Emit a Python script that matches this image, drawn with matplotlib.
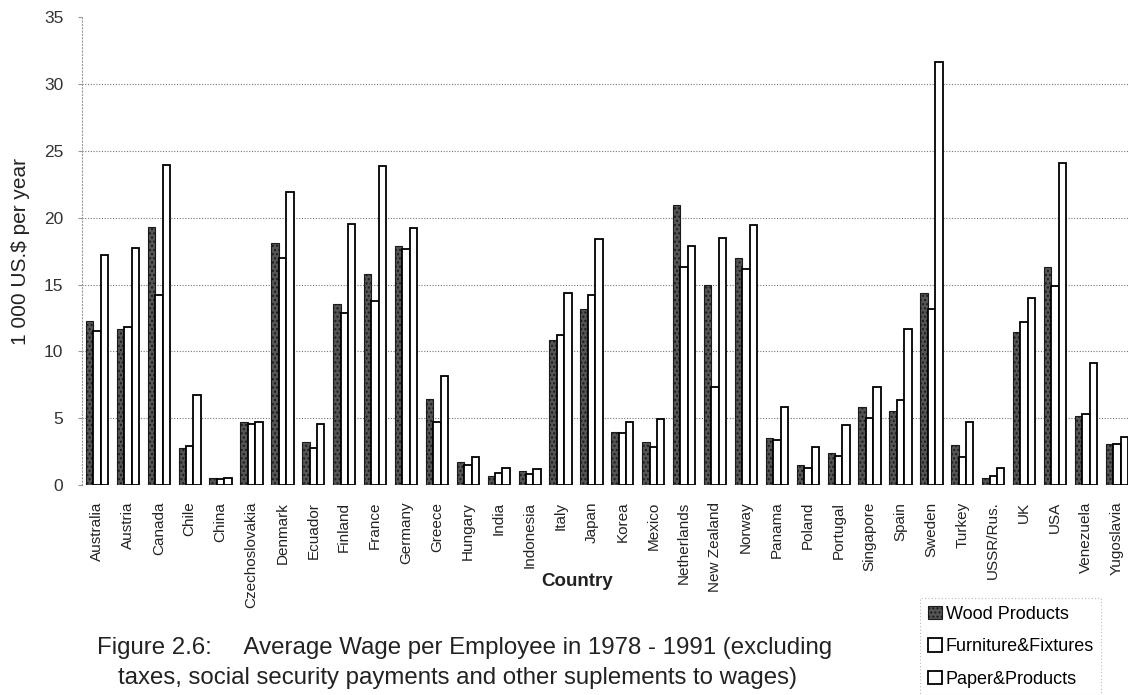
import matplotlib.pyplot as plt
import numpy as np

plt.rcParams['font.family'] = ['Liberation Sans', 'DejaVu Sans']

countries = ['Australia', 'Austria', 'Canada', 'Chile', 'China', 'Czechoslovakia',
             'Denmark', 'Ecuador', 'Finland', 'France', 'Germany', 'Greece',
             'Hungary', 'India', 'Indonesia', 'Italy', 'Japan', 'Korea', 'Mexico',
             'Netherlands', 'New Zealand', 'Norway', 'Panama', 'Poland', 'Portugal',
             'Singapore', 'Spain', 'Sweden', 'Turkey', 'USSR/Rus.', 'UK', 'USA',
             'Venezuela', 'Yugoslavia']

wood = [12.3, 11.65, 19.3, 2.8, 0.5, 4.7, 18.1, 3.25, 13.55, 15.8, 17.9, 6.4,
        1.75, 0.67, 1.05, 10.85, 13.2, 4.0, 3.2, 20.96, 14.97, 16.97, 3.5, 1.5,
        2.42, 5.86, 5.54, 14.35, 3.0, 0.55, 11.47, 16.3, 5.16, 3.1]
furniture = [11.5, 11.8, 14.2, 2.95, 0.45, 4.55, 17.0, 2.8, 12.9, 13.8, 17.7, 4.74,
             1.5, 0.87, 0.8, 11.2, 14.2, 3.87, 2.87, 16.3, 7.36, 16.2, 3.37, 1.25,
             2.17, 5.04, 6.36, 13.2, 2.12, 0.7, 12.2, 14.9, 5.3, 3.1]
paper = [17.2, 17.75, 23.95, 6.7, 0.55, 4.75, 21.9, 4.6, 19.5, 23.9, 19.26, 8.16,
         2.12, 1.25, 1.17, 14.35, 18.4, 4.69, 4.94, 17.9, 18.46, 19.46, 5.86, 2.87,
         4.49, 7.31, 11.65, 31.7, 4.69, 1.25, 14.0, 24.1, 9.15, 3.6]

x = np.arange(len(countries))
w = 0.24

fig = plt.figure(figsize=(11.28, 6.95), dpi=100)
ax = fig.add_axes([0.0723, 0.3022, 0.9315, 0.6727])

ax.bar(x - w, wood, w, color='#555555', edgecolor='#1a1a1a', hatch='....',
       lw=0.8, label='Wood Products', zorder=3)
ax.bar(x, furniture, w, color='white', edgecolor='black', lw=1.3,
       label='Furniture&Fixtures', zorder=3)
ax.bar(x + w, paper, w, color='white', edgecolor='black', lw=1.3,
       label='Paper&Products', zorder=3)

ax.set_xlim(-0.5, len(countries) - 0.5)
ax.set_ylim(0, 35)
ax.set_yticks(range(0, 36, 5))
for v in range(5, 31, 5):
    ax.axhline(v, color='#777777', lw=0.8, ls=(0, (1, 1.5)), zorder=1)

for s in ['top', 'right', 'bottom']:
    ax.spines[s].set_visible(False)
ax.spines['left'].set_color('#999999')
ax.spines['left'].set_linestyle((0, (1, 2)))
ax.axhline(0, color='#666666', lw=0.8, ls=(0, (1, 1.5)), zorder=2)

ax.tick_params(axis='y', length=3, color='#999999', labelsize=12.5,
               labelcolor='#333333', pad=10)
ax.set_xticks(x)
ax.set_xticklabels(countries, rotation=90, fontsize=11, color='#222222')
ax.tick_params(axis='x', length=0, pad=12)

ax.set_ylabel('1 000 US.$ per year', fontsize=15, color='#222222', labelpad=10)
fig.text(0.512, 0.163, 'Country', fontsize=13.5, fontweight='bold',
         ha='center', va='center', color='#222222')

fig.text(0.086, 0.068, 'Figure 2.6:     Average Wage per Employee in 1978 - 1991 (excluding',
         fontsize=17.3, ha='left', va='center', color='#222222')
fig.text(0.105, 0.024, 'taxes, social security payments and other suplements to wages)',
         fontsize=17.3, ha='left', va='center', color='#222222')

leg = fig.legend(loc='upper left', bbox_to_anchor=(0.808, 0.152), fontsize=13,
                 frameon=True, fancybox=False, handlelength=0.8, handleheight=0.8,
                 handletextpad=0.2, labelspacing=0.85, borderpad=0.4)
leg.get_frame().set_edgecolor('#aaaaaa')
leg.get_frame().set_linestyle((0, (1, 2)))
leg.get_frame().set_linewidth(0.8)

fig.savefig('out.png', dpi=100)
